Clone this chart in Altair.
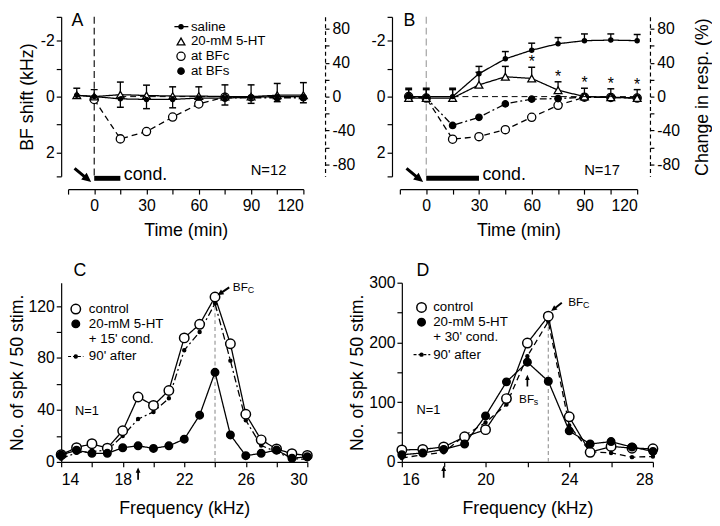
import altair as alt
import pandas as pd

FONT = "Liberation Sans"

# ===================== DATA =====================
time_pts = [-10, 0, 15, 30, 45, 60, 75, 90, 105, 120]
series_ab = ["saline", "20-mM 5-HT", "at BFc", "at BFs"]

# Panel A  (BF shift in kHz; negative values plot upward)
a_saline = [-0.05, 0.0, 0.08, 0.10, 0.10, 0.05, 0.05, 0.02, 0.0, 0.0]
a_saline_err = [0.10, 0.10, 0.30, 0.33, 0.30, 0.22, 0.25, 0.22, 0.18, 0.22]   # downward bars
a_5ht = [-0.05, 0.0, -0.07, -0.04, -0.02, -0.02, 0.0, 0.0, -0.05, -0.05]
a_5ht_err = [0.25, 0.25, 0.45, 0.37, 0.33, 0.33, 0.42, 0.42, 0.42, 0.45]      # upward bars
a_bfc_time = [0, 15, 30, 45, 60, 75]
a_bfc = [0.10, 1.51, 1.25, 0.73, 0.26, 0.02]
a_bfs_time = [75, 90, 105, 120]
a_bfs = [0.04, 0.04, 0.04, 0.04]

# Panel B
b_saline = [0.0, 0.0, 0.0, -0.82, -1.35, -1.66, -1.89, -2.0, -2.02, -2.0]
b_saline_err = [0.30, 0.30, 0.30, 0.26, 0.26, 0.25, 0.22, 0.24, 0.22, 0.22]   # upward
b_5ht = [0.05, 0.05, 0.05, -0.42, -0.71, -0.65, -0.23, 0.0, 0.02, 0.05]
b_5ht_err = [0.30, 0.30, 0.30, 0.45, 0.37, 0.40, 0.30, 0.30, 0.30, 0.30]      # upward
b_bfs = [0.0, 0.05, 1.03, 0.74, 0.26, 0.09, 0.07, 0.02, 0.03, 0.05]
b_bfc = [0.0, 0.05, 1.52, 1.43, 1.18, 0.74, 0.31, 0.02, 0.03, 0.05]
b_star_time = [60, 75, 90, 105, 120]

# Panel C (tuning curves)
c_freq = list(range(14, 31))
c_control = [5.6, 11, 14, 10.6, 24, 50, 43.5, 55, 95.5, 106, 127, 91, 36.7, 17, 10, 6.3, 5]
c_5ht = [5.3, 9, 6.6, 6.6, 10.9, 12.4, 10.4, 12.4, 17.5, 36, 69, 20.8, 4.8, 6.6, 9.1, 2.8, 4]
c_90 = [2.5, 7, 8, 9, 20, 33, 38.5, 49, 86, 100, 122, 78, 32, 12.7, 7.6, 2.5, 2]
c_labels = ["control", "20-mM 5-HT", "+ 15' cond.", "90' after"]

# Panel D
d_freq = list(range(16, 29))
d_control = [20, 21, 25, 42, 54, 106, 199, 244, 75.5, 16, 26, 23, 22]
d_5ht = [12, 15, 21, 30, 77, 134, 167, 135, 52, 30, 34, 25, 17.6]
d_90 = [6.5, 12, 16, 44, 66, 96, 177, 235, 61, 17, 15, 8, 9]
d_labels = ["control", "20-mM 5-HT", "+ 30' cond.", "90' after"]

series_cd = ["control", "20-mM 5-HT", "90' after"]

# marker styles: shape, fill, size
STY_AB = {"at BFc": ("circle", "white", 70), "at BFs": ("circle", "black", 42),
          "20-mM 5-HT": ("triangle-up", "white", 62), "saline": ("circle", "black", 18)}
STY_CD = {"90' after": ("circle", "black", 9), "control": ("circle", "white", 92),
          "20-mM 5-HT": ("circle", "black", 58)}

# ===================== HELPERS =====================
X0 = 62  # approximate left edge of the left-column plots


def base_axis(**kw):
    d = dict(grid=False, labelFont=FONT, titleFont=FONT, labelFontSize=16, titleFontSize=18,
             titleFontWeight="normal", labelColor="black", titleColor="black",
             domainColor="black", tickColor="black", domainWidth=1.2, tickWidth=1.2,
             tickSize=5, labelPadding=2)
    d.update(kw)
    return alt.Axis(**d)


def text_layer(df, X, Y, size, align="left", baseline="middle", dx=0, dy=0, field="s:N"):
    return alt.Chart(df).mark_text(font=FONT, fontSize=size, align=align, baseline=baseline,
                                   dx=dx, dy=dy, color="black").encode(
        x=X("t:Q"), y=Y("v:Q"), text=field)


def point_layers(df, styles, X, Y, sw):
    out = []
    for name, (shape, fill, size) in styles.items():
        sub = df[df["series"] == name]
        if len(sub) == 0:
            continue
        out.append(alt.Chart(sub).mark_point(shape=shape, fill=fill, size=size, filled=True,
                                             stroke="black", strokeWidth=sw, opacity=1).encode(
            x=X("t:Q"), y=Y("v:Q")))
    return out


def top_panel(pts, errs, stars, cond_end, n_text, letter, vcolor, xrange, width,
              ytitle, rtitle, leg):
    xs = alt.Scale(domain=[-15, 120], range=xrange, nice=False, zero=False)
    ys = alt.Scale(domain=[-2.85, 2.85], range=[0, 162], nice=False, zero=False)
    xax = base_axis(title="Time (min)", values=list(range(-15, 121, 15)),
                    labelExpr="datum.value >= 0 && datum.value % 30 == 0 ? datum.label : ''",
                    labelPadding=4, titlePadding=8)
    yax = base_axis(title=ytitle, values=[-2.85, -2, -1, 0, 1, 2, 2.85],
                    labelExpr="datum.value == -2 ? '-2' : datum.value == 0 ? '0' : datum.value == 2 ? '2' : ''",
                    titlePadding=4)

    def X(f):
        return alt.X(f, scale=xs, axis=xax)

    def Y(f):
        return alt.Y(f, scale=ys, axis=yax)

    vdf = pd.DataFrame({"t": [0], "v": [-2.85], "v2": [2.85]})
    vline = alt.Chart(vdf).mark_rule(color=vcolor, strokeDash=[7, 4], strokeWidth=1.1).encode(
        x=X("t:Q"), y=Y("v:Q"), y2="v2:Q")

    dash_scale = alt.Scale(domain=series_ab, range=[[1, 0], [1, 0], [6, 4], [7, 3, 2, 3]])
    lines = alt.Chart(pts).mark_line(color="black", strokeWidth=1.3).encode(
        x=X("t:Q"), y=Y("v:Q"), detail="series:N",
        strokeDash=alt.StrokeDash("series:N", scale=dash_scale, legend=None))

    ebar = alt.Chart(errs).mark_rule(color="black", strokeWidth=1.3).encode(
        x=X("t:Q"), y=Y("v:Q"), y2="e:Q")
    ecap = alt.Chart(errs).mark_tick(orient="horizontal", color="black", thickness=1.5,
                                     size=7, opacity=1).encode(x=X("t:Q"), y=Y("e:Q"))

    cdf = pd.DataFrame({"t": [0], "t2": [cond_end], "v": [2.92]})
    cbar = alt.Chart(cdf).mark_rule(color="black", strokeWidth=5).encode(
        x=X("t:Q"), x2="t2:Q", y=Y("v:Q"))
    ctext = text_layer(pd.DataFrame({"t": [cond_end + 2], "v": [2.8], "s": ["cond."]}), X, Y, 18)
    ntext = text_layer(pd.DataFrame({"t": [100], "v": [2.63], "s": [n_text]}), X, Y, 15, align="center")
    ltext = text_layer(pd.DataFrame({"t": [-13], "v": [-2.85], "s": [letter]}), X, Y, 18,
                       baseline="top", dy=-5)
    arrow = alt.Chart(pd.DataFrame({"t": [-6.5], "v": [2.81]})).mark_point(
        shape="arrow", angle=129.5, size=480, filled=True, color="black", opacity=1).encode(
        x=X("t:Q"), y=Y("v:Q"))

    layers = [vline, lines, ebar, ecap] + point_layers(pts, STY_AB, X, Y, 1.3) + \
             [cbar, ctext, ntext, ltext, arrow]
    if stars is not None:
        layers.append(alt.Chart(stars).mark_text(
            font=FONT, fontSize=16, align="center", baseline="middle", dy=-5, color="black").encode(
            x=X("t:Q"), y=Y("e:Q"), text=alt.value("*")))
    if leg is not None:
        layers.append(alt.Chart(leg["lines"]).mark_line(color="black", strokeWidth=1.3).encode(
            x=X("t:Q"), y=Y("v:Q"), detail="g:N"))
        layers += point_layers(leg["pts"], STY_AB, X, Y, 1.3)
        layers.append(text_layer(leg["txt"], X, Y, 13.5))

    main = alt.layer(*layers)

    rax_kw = dict(orient="right", values=list(range(-80, 81, 20)),
                  labelExpr="datum.value % 40 == 0 ? (datum.value < 0 ? '-' + abs(datum.value) : '' + datum.value) : ''",
                  domainDash=[4, 3], tickSize=4, labelPadding=3, title=rtitle)
    if rtitle:
        rax_kw.update(titleAngle=270, titlePadding=14, titleBaseline="top")
    rax = base_axis(**rax_kw)
    zdf = pd.DataFrame({"t": [15, 120], "p": [0, 0]})
    zline = alt.Chart(zdf).mark_line(color="black", strokeDash=[6, 4], strokeWidth=1).encode(
        x=X("t:Q"),
        y=alt.Y("p:Q", scale=alt.Scale(domain=[94, -94], range=[0, 162], nice=False, zero=False),
                axis=rax))
    return alt.layer(main, zline).resolve_scale(y="independent").properties(width=width, height=175)


def bottom_panel(pts, freq_dom, ydom, ytick, ylab_step, dash90, width,
                 peak_f, peak_v, letter, letter_x, n_x, n_y, annots, leg):
    xs = alt.Scale(domain=freq_dom, nice=False, zero=False)
    ys = alt.Scale(domain=ydom, nice=False, zero=True)
    xax = base_axis(title="Frequency (kHz)", values=list(range(freq_dom[0], freq_dom[1] + 1, 2)),
                    labelExpr=f"(datum.value - {freq_dom[0]}) % 4 == 0 ? datum.label : ''",
                    labelPadding=5, titlePadding=12)
    yax = base_axis(title="No. of spk / 50 stim.", values=list(range(0, int(ydom[1]) + 1, ytick)),
                    labelExpr=f"datum.value % {ylab_step} == 0 ? datum.label : ''",
                    titlePadding=2)

    def X(f):
        return alt.X(f, scale=xs, axis=xax)

    def Y(f):
        return alt.Y(f, scale=ys, axis=yax)

    vdf = pd.DataFrame({"t": [peak_f], "v": [0], "v2": [peak_v]})
    vline = alt.Chart(vdf).mark_rule(color="#999999", strokeDash=[4, 3], strokeWidth=1.2).encode(
        x=X("t:Q"), y=Y("v:Q"), y2="v2:Q")

    dash_scale = alt.Scale(domain=series_cd, range=[[1, 0], [1, 0], dash90])
    lines = alt.Chart(pts).mark_line(color="black", strokeWidth=1.3).encode(
        x=X("t:Q"), y=Y("v:Q"), detail="series:N",
        strokeDash=alt.StrokeDash("series:N", scale=dash_scale, legend=None))

    ltext = text_layer(pd.DataFrame({"t": [letter_x], "v": [ydom[1]], "s": [letter]}), X, Y, 18,
                       baseline="bottom", dy=-3)
    ntext = text_layer(pd.DataFrame({"t": [n_x], "v": [n_y], "s": ["N=1"]}), X, Y, 13)
    arrows = alt.Chart(pd.DataFrame(annots["arrows"])).mark_point(
        filled=True, color="black", opacity=1).encode(
        x=X("t:Q"), y=Y("v:Q"), shape=alt.value("arrow"),
        angle=alt.Angle("a:Q", scale=None), size=alt.Size("sz:Q", scale=None))
    bfdf = pd.DataFrame(annots["bf"])
    bf = text_layer(bfdf, X, Y, 12)
    sub = text_layer(bfdf, X, Y, 9, dx=15, dy=3, field="sub:N")

    leg_lines = alt.Chart(leg["lines"]).mark_line(color="black", strokeWidth=1.2,
                                                  strokeDash=[3, 2]).encode(
        x=X("t:Q"), y=Y("v:Q"), detail="g:N")
    leg_txt = text_layer(leg["txt"], X, Y, 13.5)
    layers = [vline, lines] + point_layers(pts, STY_CD, X, Y, 1.5) + \
             [ltext, ntext, arrows, bf, sub, leg_lines] + \
             point_layers(leg["pts"], STY_CD, X, Y, 1.5) + [leg_txt]
    return alt.layer(*layers).properties(width=width, height=182)


def long_df(parts):
    rows = []
    for name, xs, vs in parts:
        for x, v in zip(xs, vs):
            rows.append({"t": x, "v": v, "series": name})
    return pd.DataFrame(rows)


def legend_frames(labels, symbols, sym_x, txt_x, ys, line_series, line_x):
    txt = pd.DataFrame({"t": [txt_x] * len(labels), "v": ys, "s": labels})
    p = [(s, y) for s, y in zip(symbols, ys) if s is not None]
    pts = pd.DataFrame({"t": [sym_x] * len(p), "v": [y for _, y in p],
                        "series": [s for s, _ in p]})
    li = symbols.index(line_series)
    lines = pd.DataFrame({"t": list(line_x), "v": [ys[li]] * 2, "g": ["a", "a"]})
    return {"txt": txt, "pts": pts, "lines": lines}


# ---------------- panel A ----------------
a_pts = long_df([("at BFc", a_bfc_time, a_bfc), ("at BFs", a_bfs_time, a_bfs),
                 ("20-mM 5-HT", time_pts, a_5ht), ("saline", time_pts, a_saline)])
a_err = pd.DataFrame({"t": time_pts * 2,
                      "v": a_5ht + a_saline,
                      "e": [v - e for v, e in zip(a_5ht, a_5ht_err)] +
                           [v + e for v, e in zip(a_saline, a_saline_err)]})
legA = legend_frames(series_ab, series_ab, 49.8, 55.5, [-2.50, -1.97, -1.44, -0.91],
                     "saline", (46.0, 54.0))
A = top_panel(a_pts, a_err, None, 15, "N=12", "A", "black", [69 - X0, 308 - X0], 330 - X0,
              "BF shift (kHz)", None, legA)

# ---------------- panel B ----------------
b_pts = long_df([("at BFc", time_pts, b_bfc), ("at BFs", time_pts, b_bfs),
                 ("20-mM 5-HT", time_pts, b_5ht), ("saline", time_pts, b_saline)])
b_err = pd.DataFrame({"t": time_pts * 2,
                      "v": b_5ht + b_saline,
                      "e": [v - e for v, e in zip(b_5ht, b_5ht_err)] +
                           [v - e for v, e in zip(b_saline, b_saline_err)]})
b_stars = pd.DataFrame({"t": b_star_time,
                        "e": [b_5ht[time_pts.index(t)] - b_5ht_err[time_pts.index(t)] for t in b_star_time]})
B = top_panel(b_pts, b_err, b_stars, 30, "N=17", "B", "#999999", [8, 249], 262,
              None, "Change in resp. (%)", None)

# ---------------- panel C ----------------
c_pts = long_df([("90' after", c_freq, c_90), ("control", c_freq, c_control),
                 ("20-mM 5-HT", c_freq, c_5ht)])
legC = legend_frames(c_labels, ["control", "20-mM 5-HT", None, "90' after"],
                     14.95, 15.8, [117.7, 106.3, 94.9, 81.2], "90' after", (14.45, 15.45))
c_ann = {"arrows": {"t": [24.54, 19], "v": [131.4, -9], "a": [236, 0], "sz": [210, 150]},
         "bf": {"t": [25.16], "v": [134.4], "s": ["BF"], "sub": ["C"]}}
C = bottom_panel(c_pts, [14, 30], [0, 138], 20, 40, [7, 3, 2, 3], 312 - X0,
                 24, 127, "C", 14.8, 14.9, 39.5, c_ann, legC)

# ---------------- panel D ----------------
d_pts = long_df([("90' after", d_freq, d_90), ("control", d_freq, d_control),
                 ("20-mM 5-HT", d_freq, d_5ht)])
legD = legend_frames(d_labels, ["control", "20-mM 5-HT", None, "90' after"],
                     16.94, 17.5, [258.6, 234, 209, 179.6], "90' after", (16.56, 17.36))
d_ann = {"arrows": {"t": [23.39, 18, 22], "v": [259.5, -16.5, 136], "a": [232, 0, 0],
                    "sz": [190, 150, 140]},
         "bf": {"t": [23.95, 21.6], "v": [267, 106], "s": ["BF", "BF"], "sub": ["C", "s"]}}
D = bottom_panel(d_pts, [16, 28], [0, 300], 50, 100, [6, 4], 255,
                 23, 244, "D", 16.7, 16.7, 87, d_ann, legD)

indep = dict(strokeDash="independent")
top = alt.hconcat(A, B, spacing=68, bounds="flush").resolve_scale(**indep)
bottom = alt.hconcat(C, D, spacing=96, bounds="flush").resolve_scale(**indep)
chart = alt.vconcat(top, bottom, spacing=270, bounds="flush").resolve_scale(**indep).properties(
    padding=0).configure_view(stroke=None).configure_text(font=FONT)

chart.save("out.html", embed_options={"renderer": "svg", "actions": False})
